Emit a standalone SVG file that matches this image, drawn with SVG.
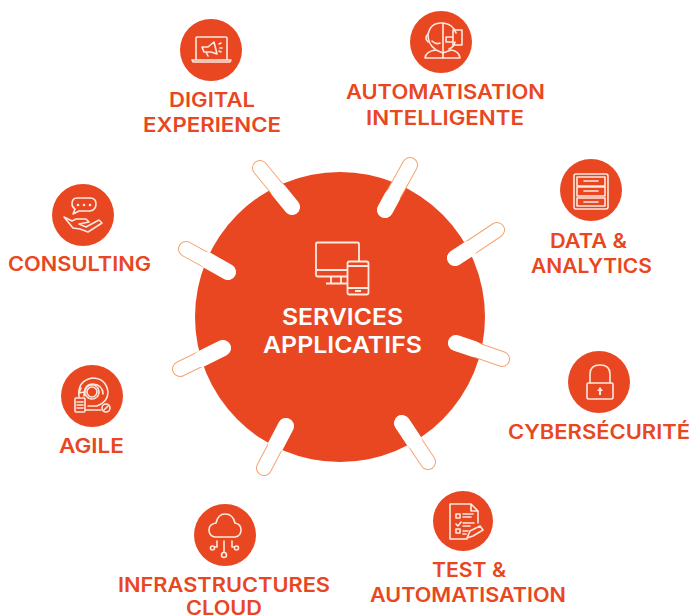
<svg xmlns="http://www.w3.org/2000/svg" width="691" height="616" viewBox="0 0 691 616">
<defs>
<style>
.disc{fill:#e84722}
.lbl{font-family:"Inter","Liberation Sans",sans-serif;font-weight:600;font-size:19.500px;fill:#e84722}
.hub{font-family:"Inter","Liberation Sans",sans-serif;font-weight:600;font-size:23px;fill:#fff}
.ic{fill:none;stroke:#fde9df;stroke-width:1.600;stroke-linecap:round;stroke-linejoin:round}
.icf{fill:#fde9df;stroke:none}
.hubic{fill:none;stroke:#fde9df;stroke-width:1.800;stroke-linejoin:round}
.spoke-o{fill:none;stroke:#f4a56f;stroke-width:16;stroke-linecap:round}
.spoke-i{fill:none;stroke:#fff;stroke-width:14;stroke-linecap:round}
</style>
</defs>
<rect width="691" height="616" fill="#fff"/>
<g id="hub">
<circle class="disc" cx="340" cy="317" r="145"/>
<g>
<rect class="hubic" x="316" y="242.500" width="43" height="34" rx="1.500"/>
<path class="hubic" d="M317 270H347M331 277V283M341 277V283M326 283.500H347"/>
<rect x="347.500" y="261.500" width="21" height="33" rx="2" fill="#e84722" stroke="#fde9df" stroke-width="1.800"/>
<path class="hubic" d="M348 266H368M348 288H368M355 291H361"/>
</g>
<text class="hub" x="282" y="325" textLength="121" lengthAdjust="spacingAndGlyphs">SERVICES</text>
<text class="hub" x="263" y="353" textLength="159" lengthAdjust="spacingAndGlyphs">APPLICATIFS</text>
</g>
<g id="connectors">
<path class="spoke-o" d="M260 168L292 207M410 165L385 210M497 230L455 258M502 359L456 343M428 462L402 423M264 468L286 426M180 369L223 348M186 249L228 272"/>
<path class="spoke-i" d="M260 168L292 207M410 165L385 210M497 230L455 258M502 359L456 343M428 462L402 423M264 468L286 426M180 369L223 348M186 249L228 272"/>
<path fill="none" stroke="#fff" stroke-width="16" stroke-linecap="round" d="M279 191L292 207M392 197L385 210M469 249L455 258M474 349L456 343M414 441L402 423M276 445L286 426M201 359L223 348M207 260L228 272"/>
</g>
<g id="digital-experience">
<circle class="disc" cx="211" cy="50" r="31"/>
<path class="ic" d="M196 59V38Q196 37 197 37H226Q227 37 227 38V59M192 60H231L230 62H193Z"/>
<path class="ic" d="M202 47L208 47L214 42L217 54L211 52L204 52ZM206 52L208 56"/>
<path class="ic" d="M219 44L221 43M220 48L222 48M219 51L221 52"/>
<text class="lbl" x="169" y="107" textLength="86" lengthAdjust="spacingAndGlyphs">DIGITAL</text>
<text class="lbl" x="143" y="132" textLength="138" lengthAdjust="spacingAndGlyphs">EXPERIENCE</text>
</g>
<g id="automatisation-intelligente">
<circle class="disc" cx="441" cy="42" r="31"/>
<path class="ic" d="M443 23V58M443 23Q430 22 428 35Q428 44 435 49M443 23Q453 24 456 33M455 42Q454 47 449 49"/>
<path class="ic" d="M428 34Q424 38 428 42M453 30H462V45H453ZM446 37H453V42H446Z"/>
<path class="ic" d="M432 41Q436 45 440 43"/>
<path class="ic" d="M425 58Q426 51 436 50L443 53L451 50Q459 51 460 58ZM425 58H460"/>
<text class="lbl" x="346" y="99" textLength="199" lengthAdjust="spacingAndGlyphs">AUTOMATISATION</text>
<text class="lbl" x="366" y="125" textLength="158" lengthAdjust="spacingAndGlyphs">INTELLIGENTE</text>
</g>
<g id="data-analytics">
<circle class="disc" cx="591" cy="190" r="31"/>
<rect class="ic" x="574" y="174" width="34" height="35" rx="2"/>
<path class="ic" d="M577 177H605V186H577ZM577 187H605V196H577ZM577 198H605V206H577Z"/>
<path class="ic" d="M584 181H598M584 191H598M584 202H598" stroke-width="1.800"/>
<text class="lbl" x="550" y="248" textLength="77" lengthAdjust="spacingAndGlyphs">DATA &amp;</text>
<text class="lbl" x="531" y="273" textLength="121" lengthAdjust="spacingAndGlyphs">ANALYTICS</text>
</g>
<g id="cybersecurite">
<circle class="disc" cx="599" cy="382" r="31"/>
<rect class="ic" x="587" y="383" width="26" height="16" rx="1.500" stroke-width="1.800"/>
<path class="ic" d="M590 383V374Q590 365 600 365Q610 365 610 374V383" stroke-width="2.200"/>
<path class="icf" d="M600 387L603 391H601V395H599V391H597Z"/>
<text class="lbl" x="508" y="439" textLength="182" lengthAdjust="spacingAndGlyphs">CYBERSÉCURITÉ</text>
</g>
<g id="test-automatisation">
<circle class="disc" cx="463" cy="521" r="30"/>
<path class="ic" d="M450 504H471L478 511V523M450 504V539H467M471 504V511H478"/>
<path class="ic" d="M456 514H460V518H456ZM456 529H460V533H456ZM456 524L458 526L461 522"/>
<path class="ic" d="M463 514H473M463 517H471M463 523H474M463 526H470M463 531H468M463 534H466"/>
<path class="ic" d="M467 538L470 531L480 526L483 530L473 536Z"/>
<text class="lbl" x="432" y="577" textLength="74" lengthAdjust="spacingAndGlyphs">TEST &amp;</text>
<text class="lbl" x="370" y="602" textLength="196" lengthAdjust="spacingAndGlyphs">AUTOMATISATION</text>
</g>
<g id="infrastructures-cloud">
<circle class="disc" cx="225" cy="535" r="31"/>
<path class="ic" d="M215 537Q209 536 209 530Q209 524 216 523Q218 514 225 514Q233 514 235 523Q241 524 241 530Q241 536 235 537Z"/>
<path class="ic" d="M224 541V552M217 541V547H215M232 541V547H234"/>
<circle class="ic" cx="212.500" cy="548" r="2"/><circle class="ic" cx="236.500" cy="548" r="2"/><circle class="ic" cx="224" cy="555" r="2.500"/>
<text class="lbl" x="118" y="592" textLength="212" lengthAdjust="spacingAndGlyphs">INFRASTRUCTURES</text>
<text class="lbl" x="186" y="615" textLength="76" lengthAdjust="spacingAndGlyphs">CLOUD</text>
</g>
<g id="agile">
<circle class="disc" cx="92" cy="396" r="31"/>
<path class="ic" d="M79 397Q77 381 92 378Q106 378 108 392Q108 402 97 406H88"/>
<path class="ic" d="M81 388L79 393L84 392M84 396Q84 384 93 384Q103 385 103 394"/>
<circle class="ic" cx="92" cy="392" r="5"/><circle class="ic" cx="92" cy="392" r="7" stroke-dasharray="2 1.500"/>
<rect class="ic" x="75" y="398" width="10" height="14" rx="1"/>
<path class="ic" d="M77 402H83M77 405H83M77 408H83M86 410H101"/>
<circle class="ic" cx="106" cy="408" r="4"/><path class="ic" d="M104 410L108 406"/>
<text class="lbl" x="59" y="453" textLength="65" lengthAdjust="spacingAndGlyphs">AGILE</text>
</g>
<g id="consulting">
<circle class="disc" cx="83" cy="215" r="31"/>
<path class="ic" d="M77 198H90Q96 198 96 204Q96 210 90 211H79L73 214L75 209Q72 207 72 204Q72 198 77 198Z"/>
<circle class="icf" cx="78" cy="205" r="1.300"/><circle class="icf" cx="84" cy="205" r="1.300"/><circle class="icf" cx="90" cy="205" r="1.300"/>
<path class="ic" d="M64 217L72 221L76 219H86L89 222L79 224L86 227L99 220L102 223L88 232L80 229L73 228Z"/>
<text class="lbl" x="8" y="271" textLength="143" lengthAdjust="spacingAndGlyphs">CONSULTING</text>
</g>
</svg>
